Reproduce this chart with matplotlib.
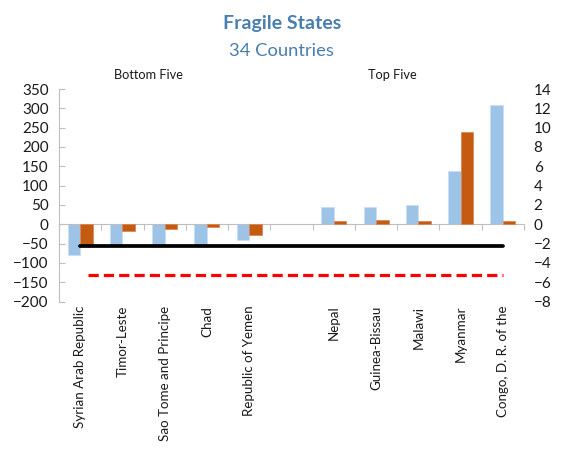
import matplotlib
matplotlib.use("Agg")
import matplotlib.pyplot as plt
import matplotlib.transforms as mtransforms

plt.rcParams['font.family'] = ['Lato', 'DejaVu Sans']

# Countries: bottom five, an empty slot, then top five
countries = ["Syrian Arab Republic", "Timor-Leste", "Sao Tome and Principe", "Chad",
             "Republic of Yemen", "", "Nepal", "Guinea-Bissau", "Malawi", "Myanmar",
             "Congo, D. R. of the"]
# Left-axis series (blue)
blue_vals = [-79, -57, -57, -57, -41, None, 44, 44, 50, 139, 308]
# Right-axis series (orange)
orange_vals = [-2.2, -0.66, -0.52, -0.28, -1.12, None, 0.36, 0.48, 0.36, 9.5, 0.36]
# Reference levels on the right axis
avg_level = -2.3
threshold_level = -5.25

left_ticks = list(range(-200, 351, 50))
right_ticks = list(range(-8, 15, 2))

blue = "#9DC3E6"
orange = "#C55A11"
gray = "#BFBFBF"
title_blue = "#4A7EB0"
text_col = "#1a1a1a"

fig = plt.figure(figsize=(5.66, 4.5), dpi=100)
ax = fig.add_axes([0.1042, 0.330, 0.8216, 0.4722])
ax2 = ax.twinx()

xs = list(range(len(countries)))
w = 0.295
bx = [x - w / 2 for x, v in zip(xs, blue_vals) if v is not None]
bv = [v for v in blue_vals if v is not None]
ox = [x + w / 2 for x, v in zip(xs, orange_vals) if v is not None]
ov = [v for v in orange_vals if v is not None]

ax.bar(bx, bv, width=w, color=blue, edgecolor="#C9DEF2", linewidth=0.6, zorder=2)
ax2.bar(ox, ov, width=w, color=orange, edgecolor="#D9875A", linewidth=0.6, zorder=2)

ax2.plot([0, 10], [avg_level, avg_level], color="black", lw=2.7,
         solid_capstyle="round", zorder=4)
ax2.plot([0.18, 10], [threshold_level, threshold_level], color="#FF0000", lw=2.3,
         linestyle=(0, (3.2, 1.6)), zorder=4)

ax.set_xlim(-0.5, 10.5)
ax.set_ylim(-200, 350)
ax2.set_ylim(-8, 14)
ax.set_yticks(left_ticks)
ax2.set_yticks(right_ticks)

# category-boundary ticks on the zero line
ax.spines['bottom'].set_position(('data', 0))
ax.set_xticks([x - 0.5 for x in xs] + [10.5])
ax.set_xticklabels([])
ax.tick_params(axis='x', direction='out', length=4, color=gray, width=0.8)

for s in ['top', 'right']:
    ax.spines[s].set_visible(False)
for s in ['top', 'right', 'left', 'bottom']:
    ax2.spines[s].set_visible(False)
ax.spines['left'].set_color(gray)
ax.spines['bottom'].set_color(gray)
ax.spines['left'].set_linewidth(0.8)
ax.spines['bottom'].set_linewidth(0.8)

ax.tick_params(axis='y', direction='in', length=4, color=gray, width=0.8,
               labelsize=11, pad=7.5, labelcolor=text_col)
ax2.tick_params(axis='y', length=0, labelsize=11, pad=7, labelcolor=text_col)

trans = mtransforms.blended_transform_factory(ax.transData, ax.transAxes)
for x, name in zip(xs, countries):
    if name:
        ax.text(x, -0.02, name, transform=trans, rotation=90, ha="center", va="top",
                fontsize=9.6, color=text_col)

fig.text(0.262, 0.833, "Bottom Five", ha="center", va="center", fontsize=9.2, color=text_col)
fig.text(0.693, 0.833, "Top Five", ha="center", va="center", fontsize=9.2, color=text_col)

fig.text(0.498, 0.948, "Fragile States", ha="center", va="center", fontsize=14,
         fontweight="bold", color=title_blue)
fig.text(0.498, 0.887, "34 Countries", ha="center", va="center", fontsize=13.2,
         color=title_blue)

fig.savefig("out.png", dpi=100)
